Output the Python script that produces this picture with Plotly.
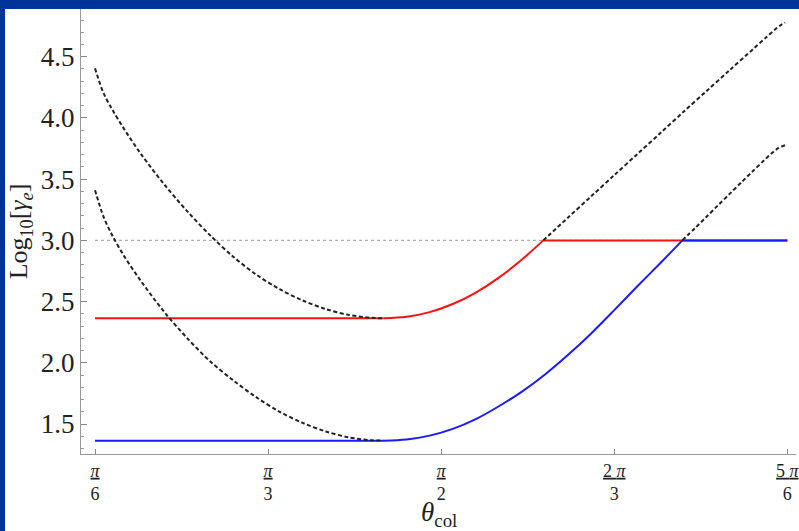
import plotly.graph_objects as go

# ---- data (angle in degrees; axis labelled in multiples of pi) ----
theta_left = [30, 31.5, 33, 35, 38, 42, 46, 50, 54, 58, 62, 66, 70, 74, 78, 80]
upper_left = [4.405, 4.2, 4.068, 3.913, 3.703, 3.457, 3.237, 3.039, 2.865, 2.719,
              2.601, 2.509, 2.439, 2.391, 2.367, 2.364]
lower_left = [3.41, 3.19, 3.04, 2.875, 2.665, 2.415, 2.2, 2.01, 1.855, 1.717,
              1.6, 1.509, 1.439, 1.391, 1.367, 1.364]

theta_upper_right = [107.7, 112, 116, 120, 124, 128, 132, 136, 140, 144, 146.5, 148, 149, 149.6]
upper_right = [3.0, 3.187, 3.36, 3.533, 3.705, 3.877, 4.05, 4.22, 4.39, 4.56, 4.665, 4.728, 4.763, 4.778]

theta_lower_right = [131.8, 134, 136, 138, 140, 142, 144, 146, 147.5, 148.5, 149.6]
lower_right = [3.0, 3.1, 3.193, 3.287, 3.38, 3.473, 3.565, 3.655, 3.72, 3.755, 3.777]

red_floor = 2.364
blue_floor = 1.364
cap = 3.0
theta_start, theta_end = 30, 150

theta_red_rise = [80, 84, 88, 92, 96, 100, 104, 107.7]
red_rise = [2.364, 2.376, 2.414, 2.48, 2.574, 2.696, 2.844, 3.0]

theta_blue_rise = [80, 84, 88, 92, 96, 100, 104, 108, 112, 116, 120, 124, 128, 131.8]
blue_rise = [1.364, 1.374, 1.405, 1.46, 1.54, 1.645, 1.765, 1.905, 2.065, 2.24, 2.43, 2.625, 2.815, 3.0]

tick_vals = [30, 60, 90, 120, 150]
tick_text = ["<u><i>π</i></u><br>6", "<u><i>π</i></u><br>3", "<u><i>π</i></u><br>2",
             "<u>2 <i>π</i></u><br>3", "<u>5 <i>π</i></u><br>6"]
y_ticks = [1.5, 2.0, 2.5, 3.0, 3.5, 4.0, 4.5]

SERIF = "Liberation Serif, Times New Roman, serif"
dash_style = dict(color="#222222", width=2, dash="4px,2.5px", shape="spline", smoothing=0.9)
spline = dict(shape="spline", smoothing=0.9)
RED, BLUE = "#ff1010", "#1a1aff"

fig = go.Figure()

# dotted threshold line
fig.add_trace(go.Scatter(x=[theta_start, theta_end], y=[cap, cap], mode="lines",
                         line=dict(color="#b0b0b0", width=1.2, dash="dot"),
                         hoverinfo="skip", showlegend=False))

# red curve: flat floor, rising part, flat cap
fig.add_trace(go.Scatter(x=[theta_start, theta_red_rise[0]], y=[red_floor, red_floor], mode="lines",
                         line=dict(color=RED, width=2), showlegend=False))
fig.add_trace(go.Scatter(x=theta_red_rise, y=red_rise, mode="lines",
                         line=dict(color=RED, width=2, **spline), showlegend=False))
fig.add_trace(go.Scatter(x=[theta_red_rise[-1], theta_end], y=[cap, cap], mode="lines",
                         line=dict(color=RED, width=2), showlegend=False))
# blue curve
fig.add_trace(go.Scatter(x=[theta_start, theta_blue_rise[0]], y=[blue_floor, blue_floor], mode="lines",
                         line=dict(color=BLUE, width=2), showlegend=False))
fig.add_trace(go.Scatter(x=theta_blue_rise, y=blue_rise, mode="lines",
                         line=dict(color=BLUE, width=2, **spline), showlegend=False))
fig.add_trace(go.Scatter(x=[theta_blue_rise[-1], theta_end], y=[cap, cap], mode="lines",
                         line=dict(color=BLUE, width=2), showlegend=False))

# dashed black curves
fig.add_trace(go.Scatter(x=theta_left, y=upper_left, mode="lines", line=dash_style, showlegend=False))
fig.add_trace(go.Scatter(x=theta_left, y=lower_left, mode="lines", line=dash_style, showlegend=False))
fig.add_trace(go.Scatter(x=theta_upper_right, y=upper_right, mode="lines", line=dash_style, showlegend=False))
fig.add_trace(go.Scatter(x=theta_lower_right, y=lower_right, mode="lines", line=dash_style, showlegend=False))

W, H = 799, 531
ml, mr, mt, mb = 81, 3, 9, 77
pw = W - ml - mr
ph = H - mt - mb
frame_col = "#003399"

fig.update_layout(
    width=W, height=H,
    margin=dict(l=ml, r=mr, t=mt, b=mb, pad=0),
    paper_bgcolor="white", plot_bgcolor="white",
    font=dict(family=SERIF, color="#222222"),
    xaxis=dict(range=[27.57, 151.5], tickvals=tick_vals, ticktext=tick_text,
               ticks="inside", ticklen=5, tickcolor="#888888", showgrid=False,
               zeroline=False, showline=True, linecolor="#999999", linewidth=1.3,
               tickfont=dict(size=18, family=SERIF, color="#222222"),
               ticklabeloverflow="allow",
               automargin=False),
    yaxis=dict(range=[1.255, 4.89], tickvals=y_ticks, ticktext=[f"{v:.1f}" for v in y_ticks],
               ticks="inside", ticklen=6, tickcolor="#888888", showgrid=False,
               zeroline=False, showline=True, linecolor="#999999", linewidth=1.3,
               minor=dict(dtick=0.1, tick0=1.5, ticks="inside", ticklen=3, tickcolor="#999999"),
               tickfont=dict(size=27, family=SERIF, color="#222222"),
               title=dict(text="Log<sub>10</sub>[<i>γ<sub>e</sub></i>]", font=dict(size=26, family=SERIF),
                          standoff=5),
               automargin=False),
    annotations=[
        dict(text="<i>θ</i><sub>col</sub>", xref="paper", yref="paper", x=0.5, y=-(514 - 454) / ph,
             xanchor="center", yanchor="middle", showarrow=False,
             font=dict(size=27, family=SERIF, color="#222222")),
    ],
    shapes=[
        dict(type="rect", xref="paper", yref="paper", x0=-ml / pw - 0.01, x1=1.02,
             y0=1.0, y1=1.0 + (mt + 2) / ph, fillcolor=frame_col, line=dict(width=0), layer="above"),
        dict(type="rect", xref="paper", yref="paper", x0=-ml / pw - 0.01, x1=-(ml - 5) / pw,
             y0=-mb / ph - 0.01, y1=1.03, fillcolor=frame_col, line=dict(width=0), layer="above"),
    ],
)

fig.write_html("out.html")
